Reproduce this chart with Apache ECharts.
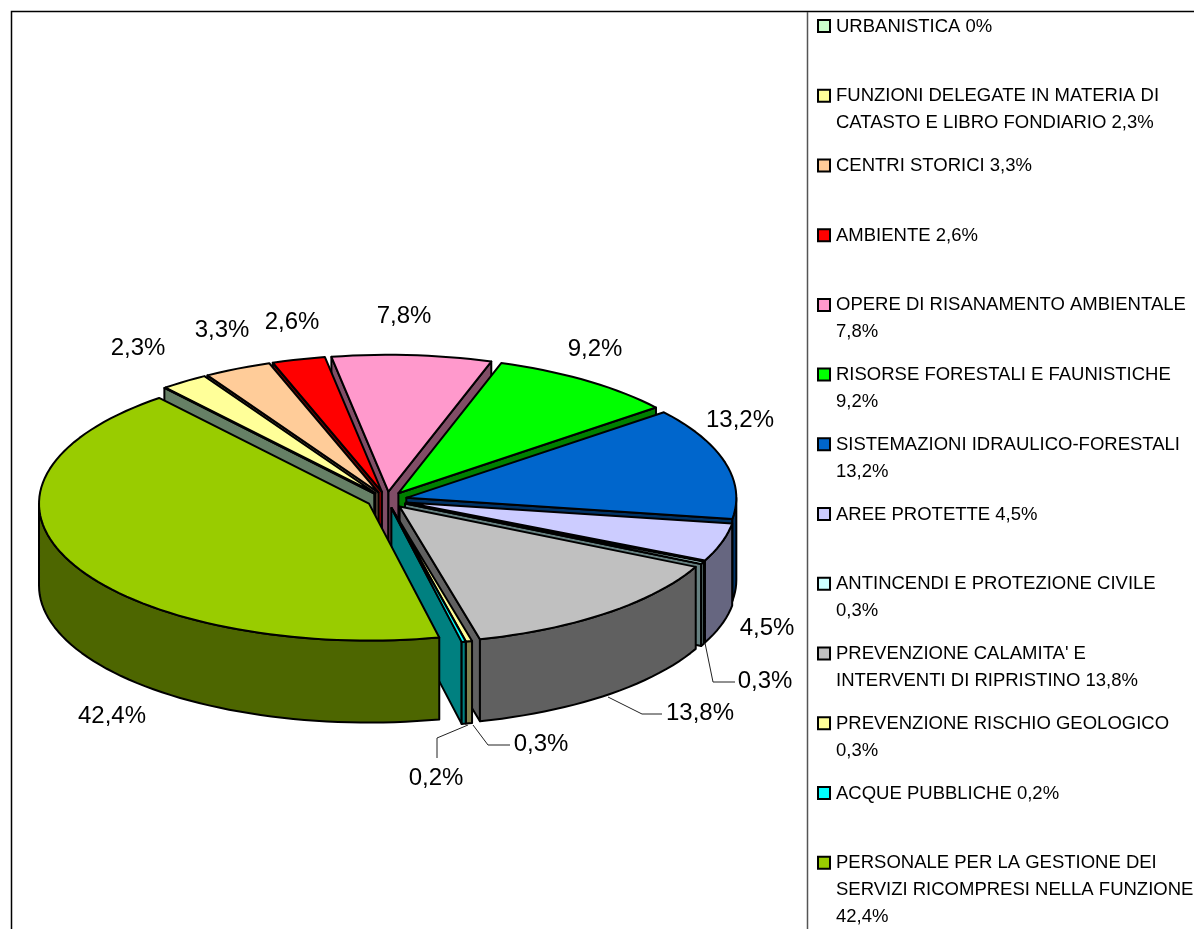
<!DOCTYPE html>
<html>
<head>
<meta charset="utf-8">
<title>Funzioni</title>
<style>
    html, body { margin: 0; padding: 0; background: #fff; }
    #chart { width: 1194px; height: 929px; }
</style>
<script src="https://cdn.jsdelivr.net/npm/echarts@6/dist/echarts.min.js"></script>
</head>
<body>
<div id="chart"></div>
<script>
const CATEGORIES = [
    'URBANISTICA',
    'FUNZIONI DELEGATE IN MATERIA DI\nCATASTO E LIBRO FONDIARIO',
    'CENTRI STORICI',
    'AMBIENTE',
    'OPERE DI RISANAMENTO AMBIENTALE\n',
    'RISORSE FORESTALI E FAUNISTICHE\n',
    'SISTEMAZIONI IDRAULICO-FORESTALI\n',
    'AREE PROTETTE',
    'ANTINCENDI E PROTEZIONE CIVILE\n',
    "PREVENZIONE CALAMITA' E\nINTERVENTI DI RIPRISTINO",
    'PREVENZIONE RISCHIO GEOLOGICO\n',
    'ACQUE PUBBLICHE',
    'PERSONALE PER LA GESTIONE DEI\nSERVIZI RICOMPRESI NELLA FUNZIONE\n'
];
const VALUES = [0, 2.3, 3.3, 2.6, 7.8, 9.2, 13.2, 4.5, 0.3, 13.8, 0.3, 0.2, 42.4];
const COLORS = ['#CCFFCC', '#FFFF99', '#FFCC99', '#FF0000', '#FF99CC', '#00FF00', '#0066CC',
    '#CCCCFF', '#CCFFFF', '#C0C0C0', '#FFFF99', '#00FFFF', '#99CC00'];

// value labels placed by hand like in the original sheet; null = no label
const LABEL_POS = [null, [138, 348], [222, 330], [292, 322], [404, 316], [595, 349], [740, 420],
    [767, 628], [765, 681], [700, 713], [541, 744], [436, 778], [112, 716]];
const LEADERS = [
    [[705, 643], [713, 682], [735, 682]],
    [[608, 697], [642, 714], [662, 714]],
    [[473, 725], [488, 745], [510, 745]],
    [[468, 725], [437, 738], [437, 758]]
];

const CX = 387, CY = 500, RX = 330, TILT = 0.415, EXPLODE = 20, DEPTH = 82, START = -39.5;
const FONT = '"Liberation Sans", Arial, sans-serif';

const total = VALUES.reduce((a, b) => a + b, 0);
const rad = d => d * Math.PI / 180;
const fmt = v => (v === 0 ? '0' : v.toFixed(1).replace('.', ',')) + '%';
const darken = hex => '#' + [1, 3, 5].map(i => {
    const c = Math.round(parseInt(hex.substr(i, 2), 16) / 2);
    return (c < 16 ? '0' : '') + c.toString(16);
}).join('');
// how far a slice's rim stays from the point of the pie nearest the viewer
const distFromFront = (a, b) => {
    if (a <= 180 && b >= 180) {
        return 0;
    }
    const wrap = d => Math.min(Math.abs(d - 180), 360 - Math.abs(d - 180));
    return Math.min(wrap(a), wrap(b));
};

let acc = START;
const slices = VALUES.map((v, i) => {
    const a = acc, b = acc + v / total * 360;
    acc = b;
    const mid = (a + b) / 2;
    const ax = CX + EXPLODE * Math.sin(rad(mid));
    const ay = CY - EXPLODE * TILT * Math.cos(rad(mid));
    const at = d => [ax + RX * Math.sin(rad(d)), ay - RX * TILT * Math.cos(rad(d))];
    const arc = (from, to) => {
        const n = Math.max(1, Math.ceil((to - from) / 2));
        return Array.from({ length: n + 1 }, (_, k) => at(from + (to - from) * k / n));
    };
    return { i, a, b, apex: [ax, ay], at, arc, top: arc(a, b), dist: distFromFront(a, b) };
});
// back to front, on a tie the wider slice goes first
slices.slice()
    .sort((p, q) => (q.dist - p.dist) || ((q.b - q.a) - (p.b - p.a)))
    .forEach((s, rank) => { s.z = rank * 10 + 10; });

const down = p => [p[0], p[1] + DEPTH];

const renderSlice = (params) => {
    const s = slices[params.dataIndex];
    const fill = COLORS[s.i], wall = darken(fill);
    const poly = (points, color, z2) => ({
        type: 'polygon',
        z2,
        shape: { points },
        style: { fill: color, stroke: '#000', lineWidth: 2, lineJoin: 'round' }
    });
    const children = [];
    const pa = s.at(s.a), pb = s.at(s.b);
    const cross = (p, q) => (p[0] - s.apex[0]) * (q[1] - s.apex[1]) - (p[1] - s.apex[1]) * (q[0] - s.apex[0]);
    const faceVisible = (edge, other) => {
        const d = cross(edge, other);
        return d === 0 || cross(edge, down(s.apex)) * d < 0;
    };
    if (faceVisible(pa, pb)) {
        children.push(poly([s.apex, pa, down(pa), down(s.apex)], wall, s.z));
    }
    if (s.b > s.a && faceVisible(pb, pa)) {
        children.push(poly([s.apex, pb, down(pb), down(s.apex)], wall, s.z));
    }
    const wa = Math.max(s.a, 90), wb = Math.min(s.b, 270);
    if (wb > wa) {
        const rim = s.arc(wa, wb);
        children.push(poly(rim.concat(rim.map(down).reverse()), wall, s.z + 1));
    }
    children.push(poly([s.apex].concat(s.top), fill, s.z + 2));
    return { type: 'group', children };
};

const renderLabel = (params) => {
    const pos = LABEL_POS[params.dataIndex];
    if (!pos) {
        return null;
    }
    return {
        type: 'text',
        z2: 500,
        style: {
            x: pos[0], y: pos[1],
            text: fmt(VALUES[params.dataIndex]),
            fill: '#000',
            font: '24px ' + FONT,
            align: 'center',
            verticalAlign: 'middle'
        }
    };
};

const LEGEND_LEFT = 818, LEGEND_TOP = 26, LEGEND_STEP = 69.72;
const renderLegend = (params) => {
    const i = params.dataIndex;
    const y = LEGEND_TOP + i * LEGEND_STEP;
    return {
        type: 'group',
        children: [
            {
                type: 'rect',
                shape: { x: LEGEND_LEFT, y: y - 6, width: 12, height: 12 },
                style: { fill: COLORS[i], stroke: '#000', lineWidth: 2 }
            },
            {
                type: 'text',
                style: {
                    x: LEGEND_LEFT + 18, y: y - 13,
                    text: CATEGORIES[i] + (CATEGORIES[i].endsWith('\n') ? '' : ' ') + fmt(VALUES[i]),
                    fill: '#000',
                    font: '18.5px ' + FONT,
                    lineHeight: 27,
                    align: 'left',
                    verticalAlign: 'top'
                }
            }
        ]
    };
};

const line = (points, color, width) => ({
    type: 'polyline',
    silent: true,
    z: 5,
    shape: { points },
    style: { fill: 'none', stroke: color, lineWidth: width }
});

const myChart = echarts.init(document.getElementById('chart'), null, { renderer: 'canvas' });
myChart.setOption({
    animation: false,
    backgroundColor: '#fff',
    graphic: {
        elements: [
            line([[11.5, 929], [11.5, 11.5], [1194, 11.5]], '#000', 1.5),
            line([[807.5, 12], [807.5, 929]], '#555', 1.5)
        ].concat(LEADERS.map(p => line(p, '#222', 1)))
    },
    series: [
        { type: 'custom', coordinateSystem: 'none', data: VALUES, renderItem: renderSlice, silent: true },
        { type: 'custom', coordinateSystem: 'none', data: VALUES, renderItem: renderLabel, silent: true },
        { type: 'custom', coordinateSystem: 'none', data: VALUES, renderItem: renderLegend, silent: true }
    ]
});
</script>
</body>
</html>
